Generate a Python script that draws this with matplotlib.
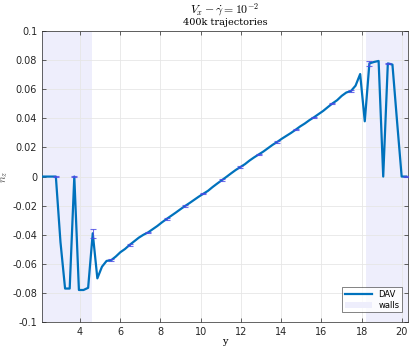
import matplotlib
matplotlib.use("Agg")

import matplotlib.pyplot as plt
import numpy as np
from matplotlib.patches import Patch
from matplotlib.lines import Line2D

plt.rcParams["mathtext.fontset"] = "cm"

# sample grid (uniform spacing ~0.229 from 2.11 to 20.22)
y_pos = np.linspace(2.11, 20.22, 80)

n_z = [
    0.0, 0.0, 0.0, 0.0, -0.045, -0.077, -0.077, 0.0,
    -0.078, -0.078, -0.0765, -0.039, -0.070, -0.062, -0.058, -0.0575,
    -0.055, -0.052, -0.0498, -0.047, -0.0445, -0.042, -0.040, -0.0384,
    -0.0362, -0.0340, -0.0315, -0.0292, -0.0270, -0.0248, -0.0225, -0.0203,
    -0.0182, -0.0160, -0.0138, -0.0118, -0.0098, -0.0072, -0.0048, -0.0025,
    -0.0002, 0.0022, 0.0045, 0.0065, 0.0085, 0.0110, 0.0132, 0.0152,
    0.0172, 0.0195, 0.0218, 0.0238, 0.0260, 0.0280, 0.0300, 0.0322,
    0.0345, 0.0365, 0.0388, 0.0408, 0.0430, 0.0452, 0.0478, 0.0503,
    0.0525, 0.0555, 0.0578, 0.0588, 0.0625, 0.0705, 0.0380, 0.0778,
    0.0788, 0.0795, 0.0, 0.0778, 0.0770, 0.0380, 0.0, 0.0,
]

# error bars on every 4th sample starting at index 3
err_idx = list(range(3, 80, 4))
err_val = [0.0004, 0.0005, 0.003, 0.0006, 0.0005, 0.0005, 0.0005, 0.0005,
           0.0005, 0.0005, 0.0005, 0.0005, 0.0005, 0.0005, 0.0005, 0.0005,
           0.0006, 0.0015, 0.0006, 0.0004]

walls = [(2.11, 4.6), (18.2, 20.3)]

fig = plt.figure(figsize=(4.12, 3.46), dpi=100)
ax = fig.add_axes([0.102, 0.0694, 0.888, 0.8406])

for a, b in walls:
    ax.axvspan(a, b, color="#eeeefc", lw=0, zorder=0)

ax.plot(y_pos, n_z, color="#0072bd", lw=1.6, zorder=3)

ex = [y_pos[i] for i in err_idx]
ey = [n_z[i] for i in err_idx]
ax.errorbar(ex, ey, yerr=err_val, fmt="none", ecolor="#4b4be6",
            elinewidth=0.8, capsize=2.5, capthick=0.8, alpha=0.8, zorder=4)

ax.set_xlim(2.11, 20.3)
ax.set_ylim(-0.1, 0.1)
ax.set_xticks(np.arange(4, 21, 2))
yt = np.round(np.arange(-0.1, 0.101, 0.02), 2)
ax.set_yticks(yt)
ax.set_yticklabels(["%g" % v for v in yt])

ax.grid(True, color="#e6e6e6", lw=0.6)
ax.set_axisbelow(True)
ax.tick_params(direction="in", length=3, labelsize=7, colors="#262626",
               top=True, right=True, width=0.5)
for s in ax.spines.values():
    s.set_color("#262626")
    s.set_linewidth(0.5)

ax.set_xlabel("y", family="serif", fontsize=7)
ax.xaxis.set_label_coords(0.5, -0.052)
ax.set_ylabel(r"$n_z$", fontsize=8, color="#555555")
ax.yaxis.set_label_coords(-0.087, 0.5)

# two-line title
fig.text(0.546, 1 - 10 / 346, r"$V_x - \dot{\gamma} = 10^{-2}$",
         ha="center", va="center", fontsize=8.5)
fig.text(0.546, 1 - 22.5 / 346, "400k trajectories", family="serif",
         ha="center", va="center", fontsize=7)

handles = [Line2D([], [], color="#0072bd", lw=1.6),
           Patch(facecolor="#eeeefc", edgecolor="none")]
leg = ax.legend(handles, ["DAV", "walls"], loc="lower right", fontsize=6,
                frameon=True, fancybox=False, edgecolor="#262626",
                handlelength=3.2, borderpad=0.3, labelspacing=0.2,
                bbox_to_anchor=(0.995, 0.02))
leg.get_frame().set_linewidth(0.5)

fig.savefig("out.png", dpi=100)
